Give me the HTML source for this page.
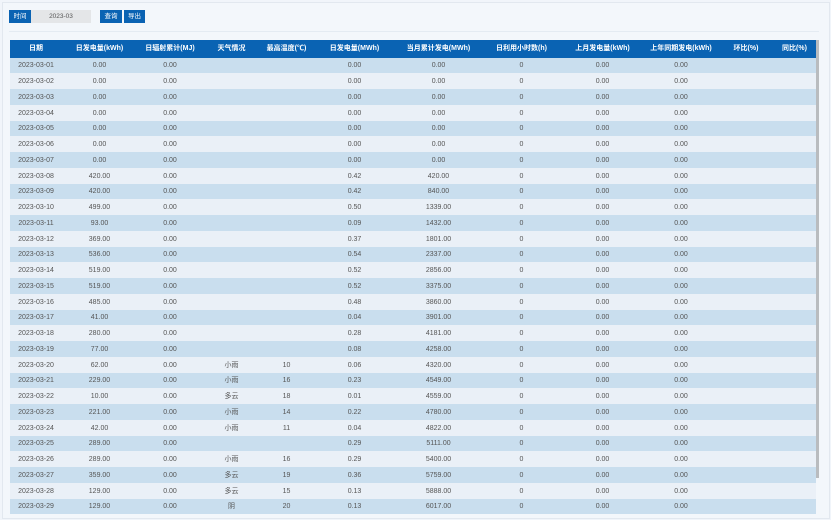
<!DOCTYPE html>
<html><head><meta charset="utf-8"><style>
html,body{margin:0;padding:0;}
body{width:831px;height:520px;overflow:hidden;background:#f1f5fa;font-family:"Liberation Sans","Noto Sans CJK SC",sans-serif;position:relative;}
.frame{position:absolute;left:2px;top:2px;width:826px;height:515px;border:1px solid #e2e8ef;background:#f3f7fb;}
.btn{position:absolute;top:10px;height:13px;background:#0a63b3;color:#fff;font-size:6.5px;line-height:13px;text-align:center;}
.inp{position:absolute;top:10px;left:31px;width:60px;height:13px;background:#e4e6e8;color:#555;font-size:6.5px;line-height:13px;text-align:center;}
.hr{position:absolute;left:9px;top:31px;width:810px;height:1px;background:#e4ebf2;}
table{position:absolute;left:10px;top:40px;width:806px;border-collapse:collapse;table-layout:fixed;font-size:7px;color:#555;}
th{background:#0a63b3;color:#fff;height:16.5px;line-height:10px;padding:1px 0 0 0;font-weight:bold;font-size:7px;vertical-align:middle;white-space:nowrap;overflow:hidden;}
td{height:13.75px;line-height:10px;padding:2px 0 0 0;text-align:center;vertical-align:middle;white-space:nowrap;overflow:hidden;}
tr:nth-child(odd) td{background:#c9deee;}
tr:nth-child(even) td{background:#eaf0f7;}
.sb{position:absolute;left:816px;top:40px;width:3px;height:438px;background:#b9bcbf;}
</style></head><body>
<div class="frame"></div>
<div class="btn" style="left:9px;width:22px">时间</div>
<div class="inp">2023-03</div>
<div class="btn" style="left:100px;width:22px">查询</div>
<div class="btn" style="left:124px;width:21px">导出</div>
<div class="hr"></div>
<table>
<colgroup><col style="width:52px"><col style="width:75px"><col style="width:66px"><col style="width:57px"><col style="width:53px"><col style="width:83px"><col style="width:85px"><col style="width:81px"><col style="width:81px"><col style="width:76px"><col style="width:54px"><col style="width:43px"></colgroup>
<thead><tr><th>日期</th><th>日发电量(kWh)</th><th>日辐射累计(MJ)</th><th>天气情况</th><th>最高温度(℃)</th><th>日发电量(MWh)</th><th>当月累计发电(MWh)</th><th>日利用小时数(h)</th><th>上月发电量(kWh)</th><th>上年同期发电(kWh)</th><th>环比(%)</th><th>同比(%)</th></tr></thead>
<tbody>
<tr><td>2023-03-01</td><td>0.00</td><td>0.00</td><td></td><td></td><td>0.00</td><td>0.00</td><td>0</td><td>0.00</td><td>0.00</td><td></td><td></td></tr>
<tr><td>2023-03-02</td><td>0.00</td><td>0.00</td><td></td><td></td><td>0.00</td><td>0.00</td><td>0</td><td>0.00</td><td>0.00</td><td></td><td></td></tr>
<tr><td>2023-03-03</td><td>0.00</td><td>0.00</td><td></td><td></td><td>0.00</td><td>0.00</td><td>0</td><td>0.00</td><td>0.00</td><td></td><td></td></tr>
<tr><td>2023-03-04</td><td>0.00</td><td>0.00</td><td></td><td></td><td>0.00</td><td>0.00</td><td>0</td><td>0.00</td><td>0.00</td><td></td><td></td></tr>
<tr><td>2023-03-05</td><td>0.00</td><td>0.00</td><td></td><td></td><td>0.00</td><td>0.00</td><td>0</td><td>0.00</td><td>0.00</td><td></td><td></td></tr>
<tr><td>2023-03-06</td><td>0.00</td><td>0.00</td><td></td><td></td><td>0.00</td><td>0.00</td><td>0</td><td>0.00</td><td>0.00</td><td></td><td></td></tr>
<tr><td>2023-03-07</td><td>0.00</td><td>0.00</td><td></td><td></td><td>0.00</td><td>0.00</td><td>0</td><td>0.00</td><td>0.00</td><td></td><td></td></tr>
<tr><td>2023-03-08</td><td>420.00</td><td>0.00</td><td></td><td></td><td>0.42</td><td>420.00</td><td>0</td><td>0.00</td><td>0.00</td><td></td><td></td></tr>
<tr><td>2023-03-09</td><td>420.00</td><td>0.00</td><td></td><td></td><td>0.42</td><td>840.00</td><td>0</td><td>0.00</td><td>0.00</td><td></td><td></td></tr>
<tr><td>2023-03-10</td><td>499.00</td><td>0.00</td><td></td><td></td><td>0.50</td><td>1339.00</td><td>0</td><td>0.00</td><td>0.00</td><td></td><td></td></tr>
<tr><td>2023-03-11</td><td>93.00</td><td>0.00</td><td></td><td></td><td>0.09</td><td>1432.00</td><td>0</td><td>0.00</td><td>0.00</td><td></td><td></td></tr>
<tr><td>2023-03-12</td><td>369.00</td><td>0.00</td><td></td><td></td><td>0.37</td><td>1801.00</td><td>0</td><td>0.00</td><td>0.00</td><td></td><td></td></tr>
<tr><td>2023-03-13</td><td>536.00</td><td>0.00</td><td></td><td></td><td>0.54</td><td>2337.00</td><td>0</td><td>0.00</td><td>0.00</td><td></td><td></td></tr>
<tr><td>2023-03-14</td><td>519.00</td><td>0.00</td><td></td><td></td><td>0.52</td><td>2856.00</td><td>0</td><td>0.00</td><td>0.00</td><td></td><td></td></tr>
<tr><td>2023-03-15</td><td>519.00</td><td>0.00</td><td></td><td></td><td>0.52</td><td>3375.00</td><td>0</td><td>0.00</td><td>0.00</td><td></td><td></td></tr>
<tr><td>2023-03-16</td><td>485.00</td><td>0.00</td><td></td><td></td><td>0.48</td><td>3860.00</td><td>0</td><td>0.00</td><td>0.00</td><td></td><td></td></tr>
<tr><td>2023-03-17</td><td>41.00</td><td>0.00</td><td></td><td></td><td>0.04</td><td>3901.00</td><td>0</td><td>0.00</td><td>0.00</td><td></td><td></td></tr>
<tr><td>2023-03-18</td><td>280.00</td><td>0.00</td><td></td><td></td><td>0.28</td><td>4181.00</td><td>0</td><td>0.00</td><td>0.00</td><td></td><td></td></tr>
<tr><td>2023-03-19</td><td>77.00</td><td>0.00</td><td></td><td></td><td>0.08</td><td>4258.00</td><td>0</td><td>0.00</td><td>0.00</td><td></td><td></td></tr>
<tr><td>2023-03-20</td><td>62.00</td><td>0.00</td><td>小雨</td><td>10</td><td>0.06</td><td>4320.00</td><td>0</td><td>0.00</td><td>0.00</td><td></td><td></td></tr>
<tr><td>2023-03-21</td><td>229.00</td><td>0.00</td><td>小雨</td><td>16</td><td>0.23</td><td>4549.00</td><td>0</td><td>0.00</td><td>0.00</td><td></td><td></td></tr>
<tr><td>2023-03-22</td><td>10.00</td><td>0.00</td><td>多云</td><td>18</td><td>0.01</td><td>4559.00</td><td>0</td><td>0.00</td><td>0.00</td><td></td><td></td></tr>
<tr><td>2023-03-23</td><td>221.00</td><td>0.00</td><td>小雨</td><td>14</td><td>0.22</td><td>4780.00</td><td>0</td><td>0.00</td><td>0.00</td><td></td><td></td></tr>
<tr><td>2023-03-24</td><td>42.00</td><td>0.00</td><td>小雨</td><td>11</td><td>0.04</td><td>4822.00</td><td>0</td><td>0.00</td><td>0.00</td><td></td><td></td></tr>
<tr><td>2023-03-25</td><td>289.00</td><td>0.00</td><td></td><td></td><td>0.29</td><td>5111.00</td><td>0</td><td>0.00</td><td>0.00</td><td></td><td></td></tr>
<tr><td>2023-03-26</td><td>289.00</td><td>0.00</td><td>小雨</td><td>16</td><td>0.29</td><td>5400.00</td><td>0</td><td>0.00</td><td>0.00</td><td></td><td></td></tr>
<tr><td>2023-03-27</td><td>359.00</td><td>0.00</td><td>多云</td><td>19</td><td>0.36</td><td>5759.00</td><td>0</td><td>0.00</td><td>0.00</td><td></td><td></td></tr>
<tr><td>2023-03-28</td><td>129.00</td><td>0.00</td><td>多云</td><td>15</td><td>0.13</td><td>5888.00</td><td>0</td><td>0.00</td><td>0.00</td><td></td><td></td></tr>
<tr><td>2023-03-29</td><td>129.00</td><td>0.00</td><td>阴</td><td>20</td><td>0.13</td><td>6017.00</td><td>0</td><td>0.00</td><td>0.00</td><td></td><td></td></tr>
</tbody></table>
<div class="sb"></div>
</body></html>
